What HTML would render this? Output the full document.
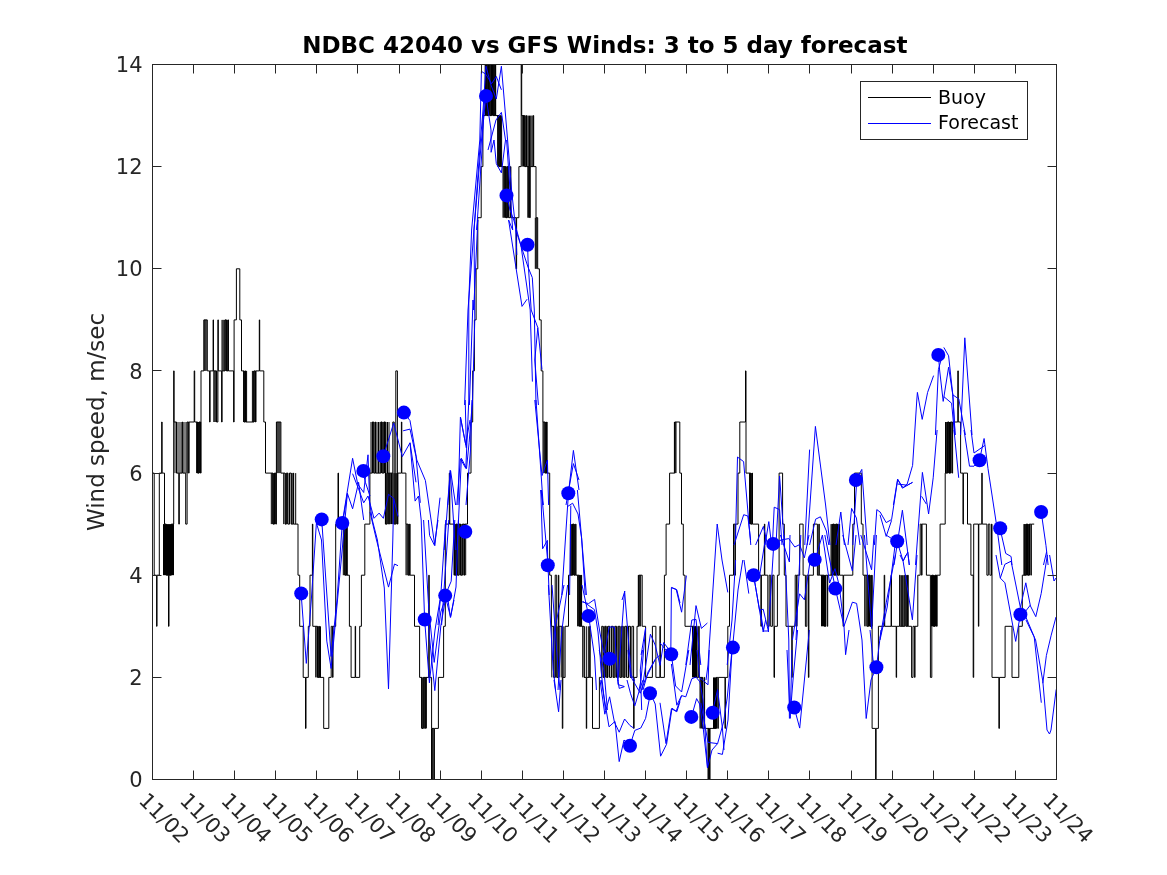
<!DOCTYPE html>
<html><head><meta charset="utf-8"><style>
html,body{margin:0;padding:0;background:#fff;}
svg{display:block;}
text{font-family:"DejaVu Sans","Liberation Sans",sans-serif;}
</style></head><body>
<svg width="1167" height="875" viewBox="0 0 1167 875">
<rect x="0" y="0" width="1167" height="875" fill="#fff"/>

<g clip-path="url(#clip)">
<clipPath id="clip"><rect x="152.5" y="64.5" width="904" height="715"/></clipPath>
<polyline fill="none" stroke="#000" stroke-width="1" points="152.5,473.1 154.2,473.1 154.2,575.2 156.6,575.2 156.6,626.3 157.0,626.3 157.0,575.2 159.3,575.2 159.3,473.1 161.7,473.1 161.7,422.0 162.1,422.0 162.1,473.1 164.5,473.1 164.5,524.1 166.2,524.1 166.2,575.2 168.5,575.2 168.5,626.3 169.0,626.3 169.0,575.2 171.3,575.2 171.3,524.1 173.7,524.1 173.7,370.9 174.1,370.9 174.1,422.0 176.5,422.0 176.5,473.1 178.8,473.1 178.8,524.1 179.3,524.1 179.3,473.1 182.2,473.1 182.2,422.0 182.7,422.0 182.7,473.1 185.7,473.1 185.7,524.1 187.1,524.1 187.1,422.0 188.6,422.0 188.6,473.1 189.1,473.1 189.1,422.0 194.2,422.0 194.2,370.9 194.7,370.9 194.7,422.0 197.6,422.0 197.6,473.1 199.0,473.1 199.0,422.0 200.6,422.0 200.6,473.1 201.0,473.1 201.0,370.9 203.9,370.9 203.9,319.9 207.3,319.9 207.3,370.9 209.6,370.9 209.6,422.0 210.1,422.0 210.1,370.9 213.1,370.9 213.1,319.9 213.5,319.9 213.5,370.9 216.5,370.9 216.5,422.0 217.9,422.0 217.9,319.9 218.3,319.9 218.3,370.9 221.6,370.9 221.6,422.0 222.1,422.0 222.1,370.9 225.0,370.9 225.0,319.9 226.4,319.9 226.4,370.9 228.0,370.9 228.0,319.9 228.4,319.9 228.4,370.9 233.6,370.9 233.6,422.0 234.1,422.0 234.1,319.9 236.4,319.9 236.4,268.8 239.8,268.8 239.8,319.9 241.5,319.9 241.5,370.9 243.9,370.9 243.9,422.0 245.3,422.0 245.3,370.9 245.7,370.9 245.7,422.0 254.1,422.0 254.1,370.9 255.5,370.9 255.5,422.0 256.0,422.0 256.0,370.9 259.3,370.9 259.3,319.9 259.7,319.9 259.7,370.9 263.8,370.9 263.8,422.0 265.5,422.0 265.5,473.1 273.0,473.1 273.0,524.1 274.4,524.1 274.4,473.1 275.9,473.1 275.9,524.1 276.4,524.1 276.4,422.0 280.9,422.0 280.9,473.1 285.0,473.1 285.0,524.1 286.4,524.1 286.4,473.1 287.9,473.1 287.9,524.1 289.5,524.1 289.5,473.1 291.2,473.1 291.2,524.1 292.9,524.1 292.9,473.1 293.4,473.1 293.4,524.1 298.0,524.1 298.0,575.2 299.7,575.2 299.7,626.3 303.2,626.3 303.2,677.4 305.5,677.4 305.5,728.4 306.0,728.4 306.0,677.4 308.3,677.4 308.3,626.3 310.0,626.3 310.0,575.2 312.4,575.2 312.4,524.1 312.8,524.1 312.8,626.3 317.5,626.3 317.5,677.4 318.9,677.4 318.9,626.3 319.3,626.3 319.3,677.4 323.7,677.4 323.7,728.4 328.8,728.4 328.8,677.4 331.2,677.4 331.2,626.3 332.6,626.3 332.6,677.4 333.0,677.4 333.0,626.3 335.7,626.3 335.7,524.1 338.0,524.1 338.0,473.1 338.5,473.1 338.5,524.1 344.9,524.1 344.9,575.2 346.3,575.2 346.3,524.1 346.7,524.1 346.7,575.2 349.4,575.2 349.4,626.3 351.1,626.3 351.1,677.4 355.2,677.4 355.2,626.3 355.6,626.3 355.6,677.4 359.7,677.4 359.7,626.3 361.4,626.3 361.4,575.2 364.8,575.2 364.8,524.1 369.9,524.1 369.9,473.1 372.3,473.1 372.3,422.0 373.7,422.0 373.7,473.1 375.2,473.1 375.2,422.0 375.7,422.0 375.7,473.1 380.8,473.1 380.8,422.0 382.2,422.0 382.2,473.1 383.8,473.1 383.8,422.0 385.4,422.0 385.4,524.1 387.1,524.1 387.1,473.1 388.8,473.1 388.8,524.1 389.2,524.1 389.2,473.1 392.8,473.1 392.8,422.0 394.2,422.0 394.2,524.1 395.8,524.1 395.8,370.9 397.4,370.9 397.4,524.1 397.9,524.1 397.9,473.1 401.4,473.1 401.4,422.0 401.8,422.0 401.8,473.1 405.9,473.1 405.9,524.1 408.2,524.1 408.2,575.2 409.6,575.2 409.6,524.1 410.1,524.1 410.1,575.2 414.5,575.2 414.5,626.3 419.6,626.3 419.6,677.4 421.9,677.4 421.9,728.4 423.3,728.4 423.3,677.4 424.9,677.4 424.9,728.4 425.3,728.4 425.3,677.4 428.8,677.4 428.8,575.2 429.2,575.2 429.2,677.4 431.6,677.4 431.6,728.4 433.9,728.4 433.9,779.5 434.4,779.5 434.4,728.4 438.4,728.4 438.4,677.4 443.6,677.4 443.6,626.3 445.3,626.3 445.3,524.1 449.3,524.1 449.3,473.1 449.8,473.1 449.8,524.1 454.5,524.1 454.5,575.2 455.9,575.2 455.9,524.1 457.4,524.1 457.4,575.2 459.0,575.2 459.0,524.1 460.7,524.1 460.7,575.2 462.4,575.2 462.4,524.1 464.1,524.1 464.1,575.2 464.6,575.2 464.6,524.1 467.5,524.1 467.5,473.1 471.0,473.1 471.0,422.0 472.7,422.0 472.7,370.9 474.4,370.9 474.4,319.9 476.1,319.9 476.1,268.8 477.8,268.8 477.8,217.7 481.2,217.7 481.2,166.6 482.9,166.6 482.9,115.6 485.3,115.6 485.3,64.5 486.7,64.5 486.7,115.6 488.2,115.6 488.2,64.5 489.9,64.5 489.9,115.6 491.5,115.6 491.5,13.4 493.2,13.4 493.2,115.6 494.9,115.6 494.9,64.5 495.4,64.5 495.4,115.6 499.0,115.6 499.0,166.6 500.4,166.6 500.4,115.6 500.8,115.6 500.8,166.6 505.8,166.6 505.8,217.7 507.2,217.7 507.2,166.6 508.8,166.6 508.8,217.7 510.4,217.7 510.4,166.6 510.9,166.6 510.9,217.7 516.1,217.7 516.1,268.8 516.6,268.8 516.6,217.7 518.9,217.7 518.9,166.6 521.2,166.6 521.2,64.5 521.7,64.5 521.7,115.6 524.7,115.6 524.7,166.6 526.1,166.6 526.1,115.6 526.5,115.6 526.5,166.6 529.8,166.6 529.8,217.7 530.2,217.7 530.2,166.6 533.2,166.6 533.2,115.6 533.7,115.6 533.7,166.6 536.0,166.6 536.0,217.7 537.7,217.7 537.7,268.8 539.4,268.8 539.4,319.9 541.2,319.9 541.2,370.9 542.9,370.9 542.9,422.0 545.2,422.0 545.2,473.1 546.6,473.1 546.6,422.0 547.1,422.0 547.1,473.1 549.7,473.1 549.7,575.2 551.4,575.2 551.4,626.3 553.8,626.3 553.8,677.4 555.2,677.4 555.2,575.2 556.7,575.2 556.7,677.4 558.4,677.4 558.4,575.2 558.8,575.2 558.8,626.3 562.3,626.3 562.3,728.4 562.8,728.4 562.8,677.4 565.1,677.4 565.1,626.3 568.5,626.3 568.5,575.2 572.6,575.2 572.6,524.1 574.0,524.1 574.0,575.2 575.6,575.2 575.6,524.1 576.0,524.1 576.0,575.2 579.4,575.2 579.4,626.3 580.8,626.3 580.8,575.2 581.3,575.2 581.3,626.3 584.0,626.3 584.0,677.4 586.3,677.4 586.3,728.4 586.7,728.4 586.7,677.4 589.7,677.4 589.7,626.3 590.2,626.3 590.2,677.4 592.5,677.4 592.5,728.4 599.4,728.4 599.4,677.4 601.7,677.4 601.7,626.3 603.1,626.3 603.1,677.4 604.7,677.4 604.7,626.3 606.3,626.3 606.3,677.4 608.0,677.4 608.0,626.3 609.7,626.3 609.7,677.4 611.4,677.4 611.4,626.3 613.1,626.3 613.1,677.4 614.8,677.4 614.8,626.3 616.5,626.3 616.5,677.4 618.2,677.4 618.2,626.3 619.9,626.3 619.9,677.4 621.6,677.4 621.6,626.3 623.3,626.3 623.3,677.4 625.0,677.4 625.0,626.3 626.8,626.3 626.8,677.4 628.5,677.4 628.5,626.3 630.2,626.3 630.2,677.4 631.9,677.4 631.9,626.3 633.6,626.3 633.6,728.4 634.1,728.4 634.1,677.4 637.0,677.4 637.0,626.3 638.7,626.3 638.7,575.2 642.2,575.2 642.2,626.3 645.6,626.3 645.6,677.4 652.4,677.4 652.4,626.3 655.9,626.3 655.9,677.4 659.9,677.4 659.9,626.3 660.4,626.3 660.4,677.4 664.4,677.4 664.4,575.2 666.1,575.2 666.1,524.1 669.6,524.1 669.6,473.1 674.7,473.1 674.7,422.0 679.8,422.0 679.8,473.1 681.5,473.1 681.5,524.1 683.3,524.1 683.3,575.2 685.0,575.2 685.0,626.3 694.2,626.3 694.2,677.4 695.6,677.4 695.6,626.3 697.1,626.3 697.1,677.4 698.7,677.4 698.7,626.3 699.2,626.3 699.2,677.4 702.7,677.4 702.7,728.4 704.1,728.4 704.1,677.4 704.6,677.4 704.6,728.4 709.6,728.4 709.6,779.5 710.0,779.5 710.0,728.4 716.4,728.4 716.4,677.4 717.8,677.4 717.8,728.4 718.3,728.4 718.3,677.4 725.0,677.4 725.0,728.4 725.4,728.4 725.4,677.4 727.8,677.4 727.8,626.3 729.5,626.3 729.5,575.2 733.5,575.2 733.5,524.1 734.9,524.1 734.9,575.2 735.4,575.2 735.4,524.1 738.0,524.1 738.0,473.1 739.8,473.1 739.8,422.0 745.5,422.0 745.5,370.9 746.0,370.9 746.0,473.1 750.7,473.1 750.7,524.1 752.1,524.1 752.1,473.1 752.5,473.1 752.5,524.1 758.6,524.1 758.6,575.2 760.9,575.2 760.9,626.3 761.4,626.3 761.4,575.2 764.4,575.2 764.4,524.1 764.8,524.1 764.8,575.2 767.8,575.2 767.8,626.3 769.2,626.3 769.2,575.2 770.7,575.2 770.7,626.3 772.4,626.3 772.4,575.2 774.0,575.2 774.0,677.4 774.5,677.4 774.5,626.3 777.4,626.3 777.4,575.2 779.1,575.2 779.1,473.1 782.6,473.1 782.6,524.1 784.3,524.1 784.3,575.2 786.0,575.2 786.0,626.3 791.8,626.3 791.8,677.4 792.2,677.4 792.2,626.3 795.2,626.3 795.2,575.2 796.6,575.2 796.6,626.3 797.0,626.3 797.0,575.2 799.7,575.2 799.7,524.1 803.1,524.1 803.1,575.2 805.4,575.2 805.4,626.3 806.8,626.3 806.8,575.2 808.4,575.2 808.4,677.4 808.9,677.4 808.9,575.2 813.4,575.2 813.4,524.1 817.4,524.1 817.4,575.2 818.8,575.2 818.8,524.1 819.3,524.1 819.3,575.2 824.3,575.2 824.3,626.3 825.7,626.3 825.7,575.2 827.2,575.2 827.2,626.3 827.7,626.3 827.7,575.2 832.8,575.2 832.8,524.1 834.2,524.1 834.2,575.2 835.8,575.2 835.8,524.1 837.4,524.1 837.4,575.2 839.1,575.2 839.1,524.1 839.6,524.1 839.6,575.2 843.1,575.2 843.1,626.3 843.6,626.3 843.6,575.2 852.8,575.2 852.8,524.1 854.5,524.1 854.5,473.1 861.3,473.1 861.3,524.1 863.0,524.1 863.0,575.2 867.1,575.2 867.1,626.3 868.5,626.3 868.5,575.2 870.0,575.2 870.0,626.3 871.7,626.3 871.7,575.2 872.1,575.2 872.1,728.4 875.6,728.4 875.6,779.5 876.1,779.5 876.1,728.4 878.4,728.4 878.4,626.3 884.2,626.3 884.2,575.2 884.7,575.2 884.7,626.3 891.1,626.3 891.1,575.2 891.5,575.2 891.5,626.3 896.2,626.3 896.2,677.4 896.6,677.4 896.6,626.3 899.6,626.3 899.6,575.2 900.1,575.2 900.1,626.3 904.8,626.3 904.8,575.2 906.1,575.2 906.1,626.3 907.7,626.3 907.7,575.2 908.2,575.2 908.2,626.3 911.6,626.3 911.6,677.4 913.0,677.4 913.0,626.3 914.6,626.3 914.6,677.4 915.0,677.4 915.0,626.3 917.8,626.3 917.8,575.2 920.2,575.2 920.2,524.1 921.6,524.1 921.6,575.2 922.0,575.2 922.0,524.1 926.4,524.1 926.4,575.2 930.4,575.2 930.4,677.4 931.8,677.4 931.8,575.2 933.4,575.2 933.4,626.3 935.0,626.3 935.0,575.2 936.7,575.2 936.7,626.3 937.1,626.3 937.1,575.2 940.1,575.2 940.1,524.1 945.2,524.1 945.2,473.1 947.6,473.1 947.6,422.0 949.0,422.0 949.0,473.1 950.5,473.1 950.5,422.0 952.1,422.0 952.1,473.1 952.6,473.1 952.6,422.0 957.8,422.0 957.8,370.9 958.3,370.9 958.3,422.0 960.6,422.0 960.6,473.1 963.0,473.1 963.0,524.1 963.4,524.1 963.4,473.1 967.5,473.1 967.5,524.1 970.9,524.1 970.9,575.2 973.2,575.2 973.2,677.4 973.7,677.4 973.7,524.1 978.4,524.1 978.4,626.3 978.8,626.3 978.8,524.1 981.8,524.1 981.8,473.1 982.2,473.1 982.2,524.1 986.9,524.1 986.9,575.2 988.3,575.2 988.3,524.1 989.9,524.1 989.9,575.2 991.5,575.2 991.5,524.1 992.0,524.1 992.0,677.4 998.9,677.4 998.9,728.4 999.4,728.4 999.4,677.4 1005.1,677.4 1005.1,626.3 1012.0,626.3 1012.0,677.4 1018.8,677.4 1018.8,626.3 1022.3,626.3 1022.3,575.2 1026.3,575.2 1026.3,524.1 1027.7,524.1 1027.7,575.2 1029.3,575.2 1029.3,524.1 1030.9,524.1 1030.9,575.2 1031.3,575.2 1031.3,524.1 1034.2,524.1"/>
<path d="M163.50 575.2V524.1M164.50 575.2V524.1M165.50 575.2V524.1M166.50 575.2V524.1M167.50 575.2V524.1M168.50 575.2V524.1M169.50 575.2V524.1M170.50 575.2V524.1M171.50 575.2V524.1M172.50 575.2V524.1M173.50 575.2V524.1M175.00 473.1V422.0M177.00 473.1V422.0M179.00 473.1V422.0M181.00 473.1V422.0M183.00 473.1V422.0M185.00 473.1V422.0M187.00 473.1V422.0M196.60 473.1V422.0M197.60 473.1V422.0M198.60 473.1V422.0M199.60 473.1V422.0M200.60 473.1V422.0M204.20 370.9V319.9M205.20 370.9V319.9M206.20 370.9V319.9M213.80 422.0V370.9M214.80 422.0V370.9M215.80 422.0V370.9M216.80 422.0V370.9M222.00 370.9V319.9M223.00 370.9V319.9M224.00 370.9V319.9M225.00 370.9V319.9M226.00 370.9V319.9M227.00 370.9V319.9M228.00 370.9V319.9M243.60 422.0V370.9M244.60 422.0V370.9M245.60 422.0V370.9M246.60 422.0V370.9M252.40 422.0V370.9M253.60 422.0V370.9M254.80 422.0V370.9M271.30 524.1V473.1M272.30 524.1V473.1M273.30 524.1V473.1M274.30 524.1V473.1M275.30 524.1V473.1M277.00 473.1V422.0M278.00 473.1V422.0M279.00 473.1V422.0M280.00 473.1V422.0M283.70 524.1V473.1M285.70 524.1V473.1M287.70 524.1V473.1M289.70 524.1V473.1M291.70 524.1V473.1M293.70 524.1V473.1M295.70 524.1V473.1M315.70 677.4V626.3M316.90 677.4V626.3M318.10 677.4V626.3M319.30 677.4V626.3M320.50 677.4V626.3M343.30 575.2V524.1M344.30 575.2V524.1M345.30 575.2V524.1M346.30 575.2V524.1M347.30 575.2V524.1M371.00 473.1V422.0M372.50 473.1V422.0M374.00 473.1V422.0M375.50 473.1V422.0M377.00 473.1V422.0M378.50 473.1V422.0M380.00 473.1V422.0M381.50 473.1V422.0M383.00 473.1V422.0M384.50 473.1V422.0M386.00 473.1V422.0M387.50 473.1V422.0M389.00 473.1V422.0M385.50 524.1V473.1M386.70 524.1V473.1M387.90 524.1V473.1M389.10 524.1V473.1M390.30 524.1V473.1M391.50 524.1V473.1M392.70 524.1V473.1M393.90 524.1V473.1M395.10 524.1V473.1M396.30 524.1V473.1M397.50 524.1V473.1M406.00 575.2V524.1M407.00 575.2V524.1M408.00 575.2V524.1M409.00 575.2V524.1M421.60 728.4V677.4M422.80 728.4V677.4M424.00 728.4V677.4M425.20 728.4V677.4M426.40 728.4V677.4M431.50 779.5V728.4M432.20 779.5V728.4M432.90 779.5V728.4M454.00 575.2V524.1M455.30 575.2V524.1M456.60 575.2V524.1M457.90 575.2V524.1M459.20 575.2V524.1M460.50 575.2V524.1M461.80 575.2V524.1M463.10 575.2V524.1M464.40 575.2V524.1M465.70 575.2V524.1M485.30 115.6V64.5M486.10 115.6V64.5M486.90 115.6V64.5M487.70 115.6V64.5M488.50 115.6V64.5M489.30 115.6V64.5M490.10 115.6V64.5M490.90 115.6V64.5M491.70 115.6V64.5M492.50 115.6V64.5M493.30 115.6V64.5M494.10 115.6V64.5M494.90 115.6V64.5M495.70 115.6V64.5M497.60 166.6V115.6M498.60 166.6V115.6M499.60 166.6V115.6M500.60 166.6V115.6M501.60 166.6V115.6M503.00 217.7V166.6M503.80 217.7V166.6M504.60 217.7V166.6M505.40 217.7V166.6M506.20 217.7V166.6M507.00 217.7V166.6M507.80 217.7V166.6M508.60 217.7V166.6M522.30 166.6V115.6M523.50 166.6V115.6M524.70 166.6V115.6M525.90 166.6V115.6M527.10 166.6V115.6M528.30 166.6V115.6M529.50 166.6V115.6M530.70 166.6V115.6M531.90 166.6V115.6M533.10 166.6V115.6M527.80 217.7V166.6M528.60 217.7V166.6M529.40 217.7V166.6M535.30 268.8V217.7M536.10 268.8V217.7M536.90 268.8V217.7M543.00 473.1V422.0M543.90 473.1V422.0M544.80 473.1V422.0M545.70 473.1V422.0M546.60 473.1V422.0M551.80 677.4V626.3M553.80 677.4V626.3M555.80 677.4V626.3M557.80 677.4V626.3M559.80 677.4V626.3M561.80 677.4V626.3M563.80 677.4V626.3M570.40 575.2V524.1M571.40 575.2V524.1M572.40 575.2V524.1M573.40 575.2V524.1M574.40 575.2V524.1M577.60 626.3V575.2M578.60 626.3V575.2M579.60 626.3V575.2M580.60 626.3V575.2M581.60 626.3V575.2M582.70 677.4V626.3M584.70 677.4V626.3M586.70 677.4V626.3M588.70 677.4V626.3M603.30 677.4V626.3M605.40 677.4V626.3M607.50 677.4V626.3M609.60 677.4V626.3M611.70 677.4V626.3M613.80 677.4V626.3M615.90 677.4V626.3M618.00 677.4V626.3M620.10 677.4V626.3M622.20 677.4V626.3M624.30 677.4V626.3M626.40 677.4V626.3M628.50 677.4V626.3M630.60 677.4V626.3M638.30 626.3V575.2M639.10 626.3V575.2M639.90 626.3V575.2M640.70 626.3V575.2M674.40 473.1V422.0M675.20 473.1V422.0M676.00 473.1V422.0M692.50 677.4V626.3M693.50 677.4V626.3M694.50 677.4V626.3M695.50 677.4V626.3M696.50 677.4V626.3M700.00 728.4V677.4M700.80 728.4V677.4M701.60 728.4V677.4M702.40 728.4V677.4M708.00 779.5V728.4M708.60 779.5V728.4M709.20 779.5V728.4M713.50 728.4V677.4M714.50 728.4V677.4M715.50 728.4V677.4M716.50 728.4V677.4M749.50 524.1V473.1M750.30 524.1V473.1M751.10 524.1V473.1M751.90 524.1V473.1M821.50 626.3V575.2M822.50 626.3V575.2M823.50 626.3V575.2M824.50 626.3V575.2M825.50 626.3V575.2M831.00 575.2V524.1M831.80 575.2V524.1M832.60 575.2V524.1M833.40 575.2V524.1M834.20 575.2V524.1M835.00 575.2V524.1M835.80 575.2V524.1M836.60 575.2V524.1M837.40 575.2V524.1M838.20 575.2V524.1M864.70 626.3V575.2M865.90 626.3V575.2M867.10 626.3V575.2M868.30 626.3V575.2M869.50 626.3V575.2M870.70 626.3V575.2M871.90 626.3V575.2M901.40 626.3V575.2M902.60 626.3V575.2M903.80 626.3V575.2M905.00 626.3V575.2M906.20 626.3V575.2M907.40 626.3V575.2M931.50 626.3V575.2M932.50 626.3V575.2M933.50 626.3V575.2M934.50 626.3V575.2M935.50 626.3V575.2M936.50 626.3V575.2M945.50 473.1V422.0M946.30 473.1V422.0M947.10 473.1V422.0M947.90 473.1V422.0M948.70 473.1V422.0M949.50 473.1V422.0M950.30 473.1V422.0M951.10 473.1V422.0M1023.90 575.2V524.1M1024.60 575.2V524.1M1025.30 575.2V524.1M1026.00 575.2V524.1M1026.70 575.2V524.1M1027.40 575.2V524.1M1028.10 575.2V524.1M1028.80 575.2V524.1M1029.50 575.2V524.1" stroke="#000" stroke-width="1" fill="none"/>
<polyline fill="none" stroke="#0000ff" stroke-width="1" points="583.2,601.5 594.5,609.7 598.0,632.0 600.0,655.0 601.0,670.0 605.4,710.0"/>
<polyline fill="none" stroke="#0000ff" stroke-width="1" points="599.2,650.0 604.0,671.0 607.4,710.0"/>
<polyline fill="none" stroke="#0000ff" stroke-width="1" points="604.5,654.0 609.3,626.5"/>
<polyline fill="none" stroke="#0000ff" stroke-width="1" points="628.0,650.0 630.4,676.0 640.3,693.2 645.0,680.0 655.4,658.9 660.0,655.0"/>
<polyline fill="none" stroke="#0000ff" stroke-width="1" points="642.5,650.0 640.3,670.0 641.7,710.0"/>
<polyline fill="none" stroke="#0000ff" stroke-width="1" points="641.1,655.0 645.6,627.9"/>
<polyline fill="none" stroke="#0000ff" stroke-width="1" points="342.3,522.5 352.6,458.3 357.7,484.0 363.7,492.5 368.0,454.8 369.7,502.8 372.3,520.0"/>
<polyline fill="none" stroke="#0000ff" stroke-width="1" points="343.1,520.0 347.4,493.4 352.6,508.8 358.6,482.3 363.7,520.0"/>
<polyline fill="none" stroke="#0000ff" stroke-width="1" points="352.6,473.7 358.6,489.1 363.7,502.8 368.0,496.0 374.0,518.3 379.1,513.1 383.4,518.3 388.5,494.3 393.7,498.5 398.0,516.5"/>
<polyline fill="none" stroke="#0000ff" stroke-width="1" points="362.9,471.0 365.4,482.3 370.0,496.0"/>
<polyline fill="none" stroke="#0000ff" stroke-width="1" points="383.4,455.7 393.7,423.1 402.3,456.6 410.0,442.8 416.0,482.3"/>
<polyline fill="none" stroke="#0000ff" stroke-width="1" points="404.0,412.9 410.0,420.6 416.8,460.0 425.4,480.5 434.8,545.7 440.0,497.7"/>
<polyline fill="none" stroke="#0000ff" stroke-width="1" points="403.1,430.8 410.0,429.1 416.0,456.6 420.3,502.8"/>
<polyline fill="none" stroke="#0000ff" stroke-width="1" points="410.0,442.8 415.1,501.1 418.5,496.0 421.2,520.0"/>
<polyline fill="none" stroke="#0000ff" stroke-width="1" points="444.2,550.0 450.2,470.3 455.4,550.0"/>
<polyline fill="none" stroke="#0000ff" stroke-width="1" points="457.1,550.0 461.4,458.3 466.5,468.6 469.1,442.8 472.5,400.0"/>
<polyline fill="none" stroke="#0000ff" stroke-width="1" points="460.5,417.1 465.7,444.6 470.0,420.0"/>
<polyline fill="none" stroke="#0000ff" stroke-width="1" points="301.1,593.1 306.3,663.4 311.3,600.0 316.4,523.0 321.5,540.0 326.8,641.1 331.1,668.5 343.1,540.0 347.4,493.4"/>
<polyline fill="none" stroke="#0000ff" stroke-width="1" points="321.7,519.4 331.1,656.5 337.0,600.0 342.3,522.5"/>
<polyline fill="none" stroke="#0000ff" stroke-width="1" points="370.0,512.0 376.5,540.0 388.5,587.1 394.5,564.0 398.0,565.7"/>
<polyline fill="none" stroke="#0000ff" stroke-width="1" points="372.3,520.0 377.4,540.0 384.3,588.0 388.5,689.0 392.8,540.0 393.7,498.5"/>
<polyline fill="none" stroke="#0000ff" stroke-width="1" points="421.2,520.0 424.6,619.2 429.4,682.8 435.0,630.0 440.0,600.0"/>
<polyline fill="none" stroke="#0000ff" stroke-width="1" points="423.6,520.0 428.8,609.6 434.2,662.4 440.8,612.0 445.6,598.0"/>
<polyline fill="none" stroke="#0000ff" stroke-width="1" points="428.0,622.0 434.8,690.6 440.8,626.0 445.6,598.0"/>
<polyline fill="none" stroke="#0000ff" stroke-width="1" points="448.0,600.0 450.4,617.4 454.0,600.0"/>
<polyline fill="none" stroke="#0000ff" stroke-width="1" points="428.4,520.0 429.6,535.6 434.4,545.2 438.0,520.0"/>
<polyline fill="none" stroke="#0000ff" stroke-width="1" points="445.8,520.0 441.0,592.0 438.0,625.0"/>
<polyline fill="none" stroke="#0000ff" stroke-width="1" points="448.8,520.0 441.6,625.0"/>
<polyline fill="none" stroke="#0000ff" stroke-width="1" points="445.2,595.6 451.2,581.2 454.8,520.0"/>
<polyline fill="none" stroke="#0000ff" stroke-width="1" points="445.2,595.6 450.6,617.2 456.0,587.0 458.4,520.0"/>
<polyline fill="none" stroke="#0000ff" stroke-width="1" points="447.8,505.0 450.6,470.8 455.6,505.0"/>
<polyline fill="none" stroke="#0000ff" stroke-width="1" points="456.8,505.0 460.4,458.8 465.8,468.4 468.8,400.0"/>
<polyline fill="none" stroke="#0000ff" stroke-width="1" points="458.0,505.0 460.4,417.4 466.4,448.0 465.2,400.0"/>
<polyline fill="none" stroke="#0000ff" stroke-width="1" points="466.0,505.0 470.5,450.0 472.0,400.0"/>
<polyline fill="none" stroke="#0000ff" stroke-width="1" points="468.8,400.0 468.8,300.0 471.6,230.0 479.8,140.0 481.4,71.3 486.0,74.4 491.6,83.7 496.3,76.5 501.4,89.8"/>
<polyline fill="none" stroke="#0000ff" stroke-width="1" points="464.6,405.0 468.0,310.0 474.7,220.0 480.5,140.0 483.0,110.0 486.0,66.2 491.0,85.0 496.3,99.0 501.4,66.2 507.6,140.0 511.7,191.4 515.8,230.0 516.8,255.0"/>
<polyline fill="none" stroke="#0000ff" stroke-width="1" points="469.4,405.0 473.0,300.0 473.7,310.0 477.8,220.0 476.7,230.0 482.0,150.0 484.0,105.0 486.0,96.0"/>
<polyline fill="none" stroke="#0000ff" stroke-width="1" points="472.4,405.0 474.8,319.2 474.7,310.0 474.0,230.0 481.5,140.0 486.0,96.0"/>
<polyline fill="none" stroke="#0000ff" stroke-width="1" points="486.0,96.0 491.0,130.0 491.1,152.3 494.0,140.0 496.3,163.6 501.4,172.9 505.5,140.0 501.4,112.4 496.0,120.0 488.0,150.0"/>
<polyline fill="none" stroke="#0000ff" stroke-width="1" points="506.6,140.0 510.0,190.0 512.7,230.0 508.6,220.0 522.0,306.4 527.1,299.2"/>
<polyline fill="none" stroke="#0000ff" stroke-width="1" points="506.6,195.5 510.0,210.0 513.8,220.0 521.0,245.7 530.2,310.0 532.4,381.6"/>
<polyline fill="none" stroke="#0000ff" stroke-width="1" points="515.8,230.0 528.1,267.3 532.3,277.6 534.3,310.0 536.0,405.0"/>
<polyline fill="none" stroke="#0000ff" stroke-width="1" points="527.6,244.7 528.1,262.0 531.2,310.0 537.8,327.6 542.0,369.6"/>
<polyline fill="none" stroke="#0000ff" stroke-width="1" points="537.8,327.6 534.8,360.0 538.4,405.0"/>
<polyline fill="none" stroke="#0000ff" stroke-width="1" points="534.8,400.0 542.0,475.6 547.4,460.0 548.6,505.0"/>
<polyline fill="none" stroke="#0000ff" stroke-width="1" points="536.0,400.0 543.2,505.0 540.8,490.0 542.6,548.8 547.4,540.4 547.8,565.0"/>
<polyline fill="none" stroke="#0000ff" stroke-width="1" points="568.4,493.6 573.4,450.4 579.0,490.0"/>
<polyline fill="none" stroke="#0000ff" stroke-width="1" points="566.0,505.0 573.4,463.6 579.0,480.0"/>
<polyline fill="none" stroke="#0000ff" stroke-width="1" points="541.4,490.0 548.0,565.0 549.2,595.0"/>
<polyline fill="none" stroke="#0000ff" stroke-width="1" points="568.4,494.2 566.0,530.0 561.8,595.0"/>
<polyline fill="none" stroke="#0000ff" stroke-width="1" points="567.2,506.8 572.6,503.2 578.0,514.0 581.6,538.0 586.4,595.0"/>
<polyline fill="none" stroke="#0000ff" stroke-width="1" points="577.4,490.0 581.6,538.0 585.2,595.0"/>
<polyline fill="none" stroke="#0000ff" stroke-width="1" points="570.8,505.6 569.6,595.0"/>
<polyline fill="none" stroke="#0000ff" stroke-width="1" points="624.8,591.4 622.0,600.0"/>
<polyline fill="none" stroke="#0000ff" stroke-width="1" points="548.4,585.0 553.2,669.0 555.6,690.0"/>
<polyline fill="none" stroke="#0000ff" stroke-width="1" points="552.0,585.0 558.0,669.0 560.0,690.0"/>
<polyline fill="none" stroke="#0000ff" stroke-width="1" points="567.6,585.0 561.6,633.0 558.0,690.0"/>
<polyline fill="none" stroke="#0000ff" stroke-width="1" points="564.0,585.0 554.4,630.6 553.0,660.0"/>
<polyline fill="none" stroke="#0000ff" stroke-width="1" points="582.0,601.8 588.6,603.6 594.6,599.4 600.0,633.0 603.6,652.0 607.2,657.0"/>
<polyline fill="none" stroke="#0000ff" stroke-width="1" points="582.0,585.0 588.6,615.6 594.6,657.0 596.4,690.0"/>
<polyline fill="none" stroke="#0000ff" stroke-width="1" points="609.6,627.0 614.4,627.0 618.0,684.6 624.0,686.4"/>
<polyline fill="none" stroke="#0000ff" stroke-width="1" points="618.0,681.0 624.6,591.0 631.2,675.0 634.8,681.0"/>
<polyline fill="none" stroke="#0000ff" stroke-width="1" points="645.6,628.2 641.0,680.0 639.0,690.0"/>
<polyline fill="none" stroke="#0000ff" stroke-width="1" points="642.0,690.0 650.4,634.2 655.2,645.0 660.0,665.4 663.6,642.6 667.0,647.0 671.4,654.3"/>
<polyline fill="none" stroke="#0000ff" stroke-width="1" points="671.4,587.4 676.8,589.8 680.0,603.0"/>
<polyline fill="none" stroke="#0000ff" stroke-width="1" points="655.0,660.0 648.0,672.0 643.0,690.0"/>
<polyline fill="none" stroke="#0000ff" stroke-width="1" points="554.0,680.0 558.6,711.8 561.0,680.0"/>
<polyline fill="none" stroke="#0000ff" stroke-width="1" points="600.0,680.0 604.8,714.2 609.6,696.8 614.4,722.0 619.2,732.2 624.6,719.0 630.0,725.6 633.6,728.0"/>
<polyline fill="none" stroke="#0000ff" stroke-width="1" points="601.2,680.0 609.0,726.8 615.0,721.4 619.2,761.6 624.0,740.0 630.0,745.4"/>
<polyline fill="none" stroke="#0000ff" stroke-width="1" points="630.0,745.4 634.8,730.4 640.8,728.0 645.6,718.4 650.4,693.2"/>
<polyline fill="none" stroke="#0000ff" stroke-width="1" points="618.0,680.0 619.2,688.4 624.6,686.6"/>
<polyline fill="none" stroke="#0000ff" stroke-width="1" points="627.0,680.0 630.6,693.8 634.8,705.8 639.6,689.6 643.0,680.0"/>
<polyline fill="none" stroke="#0000ff" stroke-width="1" points="650.4,693.2 655.2,704.0 660.6,756.2 666.6,744.2 672.0,708.2 676.8,711.8 680.0,701.6"/>
<polyline fill="none" stroke="#0000ff" stroke-width="1" points="660.0,642.8 664.8,648.8 670.8,653.6"/>
<polyline fill="none" stroke="#0000ff" stroke-width="1" points="670.8,653.6 671.4,587.6 676.2,589.4 681.6,612.2 686.4,575.6"/>
<polyline fill="none" stroke="#0000ff" stroke-width="1" points="685.8,665.0 691.8,620.0 696.0,619.4 700.8,665.0"/>
<polyline fill="none" stroke="#0000ff" stroke-width="1" points="690.0,665.0 696.0,605.6 701.4,628.4 707.4,623.0"/>
<polyline fill="none" stroke="#0000ff" stroke-width="1" points="706.0,680.0 708.0,665.0 717.2,524.0 722.0,560.0 727.8,592.4"/>
<polyline fill="none" stroke="#0000ff" stroke-width="1" points="727.2,665.0 732.0,620.0 735.6,560.0"/>
<polyline fill="none" stroke="#0000ff" stroke-width="1" points="732.6,647.3 738.0,590.0 742.8,560.0"/>
<polyline fill="none" stroke="#0000ff" stroke-width="1" points="744.0,560.0 748.8,593.6"/>
<polyline fill="none" stroke="#0000ff" stroke-width="1" points="753.6,575.4 759.6,610.4 763.2,609.2 768.6,632.0"/>
<polyline fill="none" stroke="#0000ff" stroke-width="1" points="753.6,575.4 763.2,632.0 765.6,620.0"/>
<polyline fill="none" stroke="#0000ff" stroke-width="1" points="671.4,654.8 675.6,686.0 681.6,692.0 688.8,650.0"/>
<polyline fill="none" stroke="#0000ff" stroke-width="1" points="671.4,664.0 676.8,705.2 681.6,695.6 685.8,696.8 691.8,678.8 696.0,677.0 700.0,682.0 703.0,700.0 707.5,768.0 712.0,750.0 717.6,743.6"/>
<polyline fill="none" stroke="#0000ff" stroke-width="1" points="660.0,702.8 666.0,743.6 671.4,708.8 676.2,711.2 681.6,695.6"/>
<polyline fill="none" stroke="#0000ff" stroke-width="1" points="691.4,717.2 696.6,698.6 699.6,704.0 703.2,728.0 707.5,768.0"/>
<polyline fill="none" stroke="#0000ff" stroke-width="1" points="697.0,650.0 699.6,677.6 708.0,684.8 709.2,650.0"/>
<polyline fill="none" stroke="#0000ff" stroke-width="1" points="700.8,702.8 708.0,742.4 717.6,743.6 723.6,722.0 727.2,698.0 732.0,650.0"/>
<polyline fill="none" stroke="#0000ff" stroke-width="1" points="712.4,712.4 717.6,689.6 722.4,728.0 724.0,750.0"/>
<polyline fill="none" stroke="#0000ff" stroke-width="1" points="717.6,753.2 722.4,754.4 728.0,720.0 732.0,650.0"/>
<polyline fill="none" stroke="#0000ff" stroke-width="1" points="787.0,650.0 790.2,718.4 792.0,650.0"/>
<polyline fill="none" stroke="#0000ff" stroke-width="1" points="735.5,540.0 737.5,457.0 743.6,461.6 750.8,545.0"/>
<polyline fill="none" stroke="#0000ff" stroke-width="1" points="734.0,545.0 743.7,514.7 747.8,516.0 750.6,540.0"/>
<polyline fill="none" stroke="#0000ff" stroke-width="1" points="755.6,545.0 763.4,526.4 767.6,545.0"/>
<polyline fill="none" stroke="#0000ff" stroke-width="1" points="765.0,545.0 768.8,521.6 771.0,540.0"/>
<polyline fill="none" stroke="#0000ff" stroke-width="1" points="772.4,545.0 774.2,507.2 779.6,509.6 782.0,545.0"/>
<polyline fill="none" stroke="#0000ff" stroke-width="1" points="776.0,545.0 779.6,476.0 784.4,545.0"/>
<polyline fill="none" stroke="#0000ff" stroke-width="1" points="804.8,545.0 809.6,449.6"/>
<polyline fill="none" stroke="#0000ff" stroke-width="1" points="807.2,545.0 815.4,426.4 825.6,505.0 830.0,545.0"/>
<polyline fill="none" stroke="#0000ff" stroke-width="1" points="809.6,545.0 815.6,519.2 820.4,516.8 826.4,531.0 828.8,545.0"/>
<polyline fill="none" stroke="#0000ff" stroke-width="1" points="836.0,545.0 840.8,512.0 844.4,545.0"/>
<polyline fill="none" stroke="#0000ff" stroke-width="1" points="848.0,545.0 851.6,508.4 856.4,518.0 860.0,545.0"/>
<polyline fill="none" stroke="#0000ff" stroke-width="1" points="855.8,480.2 861.8,469.4 867.2,545.0"/>
<polyline fill="none" stroke="#0000ff" stroke-width="1" points="852.8,545.0 856.4,485.6"/>
<polyline fill="none" stroke="#0000ff" stroke-width="1" points="874.4,545.0 876.8,509.6 880.0,512.0"/>
<polyline fill="none" stroke="#0000ff" stroke-width="1" points="760.0,609.0 763.6,631.0 768.4,631.0 773.8,544.0"/>
<polyline fill="none" stroke="#0000ff" stroke-width="1" points="760.0,573.0 766.0,535.0"/>
<polyline fill="none" stroke="#0000ff" stroke-width="1" points="773.8,544.0 781.0,540.0 788.8,538.6 794.8,547.0 799.6,544.6 804.4,557.8 809.0,535.0"/>
<polyline fill="none" stroke="#0000ff" stroke-width="1" points="780.4,535.0 789.4,562.0 790.0,535.0"/>
<polyline fill="none" stroke="#0000ff" stroke-width="1" points="784.0,535.0 788.8,640.0 789.4,718.5"/>
<polyline fill="none" stroke="#0000ff" stroke-width="1" points="792.4,640.0 799.6,593.8 804.4,599.8 810.4,559.0 815.2,559.6"/>
<polyline fill="none" stroke="#0000ff" stroke-width="1" points="796.0,640.0 800.8,535.0"/>
<polyline fill="none" stroke="#0000ff" stroke-width="1" points="815.2,559.6 822.4,535.0"/>
<polyline fill="none" stroke="#0000ff" stroke-width="1" points="822.4,535.0 829.6,583.0 835.0,568.6 839.2,585.4 844.0,626.2 852.4,602.2 856.6,603.4 862.0,640.0 866.2,718.5 871.0,680.0 876.5,667.0"/>
<polyline fill="none" stroke="#0000ff" stroke-width="1" points="824.8,535.0 835.3,588.4 844.0,626.2 845.6,654.7 849.0,630.0"/>
<polyline fill="none" stroke="#0000ff" stroke-width="1" points="842.8,535.0 852.4,571.0 856.0,535.0"/>
<polyline fill="none" stroke="#0000ff" stroke-width="1" points="860.8,535.0 871.6,569.8 874.0,535.0"/>
<polyline fill="none" stroke="#0000ff" stroke-width="1" points="864.4,535.0 871.6,628.6 876.4,535.0"/>
<polyline fill="none" stroke="#0000ff" stroke-width="1" points="880.0,640.0 887.2,607.0 895.6,541.0"/>
<polyline fill="none" stroke="#0000ff" stroke-width="1" points="886.0,535.0 895.6,541.0"/>
<polyline fill="none" stroke="#0000ff" stroke-width="1" points="797.6,630.0 793.0,680.0 791.0,705.0"/>
<polyline fill="none" stroke="#0000ff" stroke-width="1" points="794.2,707.5 799.7,728.1 809.3,630.0"/>
<polyline fill="none" stroke="#0000ff" stroke-width="1" points="870.0,630.0 873.0,660.0 876.5,667.0"/>
<polyline fill="none" stroke="#0000ff" stroke-width="1" points="881.0,630.0 876.5,667.0"/>
<polyline fill="none" stroke="#0000ff" stroke-width="1" points="893.4,505.0 897.6,479.2 902.4,488.2 907.2,484.0 912.6,465.4 916.8,400.0 917.4,392.4 922.2,419.4 927.6,392.4 933.6,375.6"/>
<polyline fill="none" stroke="#0000ff" stroke-width="1" points="897.6,484.0 907.2,485.2 912.6,482.4"/>
<polyline fill="none" stroke="#0000ff" stroke-width="1" points="935.4,435.0 938.4,369.6 941.0,360.0"/>
<polyline fill="none" stroke="#0000ff" stroke-width="1" points="938.4,354.6 939.6,370.0 943.2,401.4 948.6,367.2 952.8,394.8 955.0,435.0"/>
<polyline fill="none" stroke="#0000ff" stroke-width="1" points="943.8,347.4 948.6,355.8 952.8,394.8 955.2,435.0"/>
<polyline fill="none" stroke="#0000ff" stroke-width="1" points="943.8,396.6 951.6,403.2 954.6,435.0"/>
<polyline fill="none" stroke="#0000ff" stroke-width="1" points="952.8,394.8 958.8,399.0 965.4,435.0"/>
<polyline fill="none" stroke="#0000ff" stroke-width="1" points="960.6,435.0 964.8,337.8 972.0,435.0"/>
<polyline fill="none" stroke="#0000ff" stroke-width="1" points="880.0,511.8 886.2,522.6 891.6,519.5 897.7,479.4 903.1,487.8 912.4,482.4"/>
<polyline fill="none" stroke="#0000ff" stroke-width="1" points="880.0,514.8 886.2,536.4 891.6,520.3"/>
<polyline fill="none" stroke="#0000ff" stroke-width="1" points="894.0,565.0 902.4,510.2 909.3,565.0"/>
<polyline fill="none" stroke="#0000ff" stroke-width="1" points="897.0,541.0 903.1,561.0 907.8,552.0 909.3,565.0"/>
<polyline fill="none" stroke="#0000ff" stroke-width="1" points="915.5,565.0 922.4,472.4 928.6,514.0 933.2,477.8 937.1,430.0"/>
<polyline fill="none" stroke="#0000ff" stroke-width="1" points="921.6,496.3 926.3,504.0"/>
<polyline fill="none" stroke="#0000ff" stroke-width="1" points="954.0,430.0 958.7,477.8"/>
<polyline fill="none" stroke="#0000ff" stroke-width="1" points="964.0,430.0 969.5,466.2 974.0,466.2 979.5,460.1 984.1,438.5 988.0,468.6 997.0,528.0 1001.8,565.0"/>
<polyline fill="none" stroke="#0000ff" stroke-width="1" points="971.0,430.0 974.0,453.0 984.9,445.4"/>
<polyline fill="none" stroke="#0000ff" stroke-width="1" points="1000.0,528.3 1005.7,553.4 1011.1,556.5 1012.0,565.0"/>
<polyline fill="none" stroke="#0000ff" stroke-width="1" points="1041.2,511.8 1046.0,545.7 1048.1,565.0"/>
<polyline fill="none" stroke="#0000ff" stroke-width="1" points="1043.5,565.0 1046.6,551.8"/>
<polyline fill="none" stroke="#0000ff" stroke-width="1" points="880.0,638.3 886.2,602.8 895.4,555.0"/>
<polyline fill="none" stroke="#0000ff" stroke-width="1" points="900.0,555.0 903.1,561.2 906.0,555.0"/>
<polyline fill="none" stroke="#0000ff" stroke-width="1" points="903.1,561.2 912.4,619.8 917.0,555.0"/>
<polyline fill="none" stroke="#0000ff" stroke-width="1" points="996.0,555.0 1000.3,578.1 1004.9,582.8 1015.7,641.4 1020.4,614.4"/>
<polyline fill="none" stroke="#0000ff" stroke-width="1" points="1000.3,578.1 1004.9,564.3 1011.1,561.2 1020.4,607.5 1025.8,582.8 1030.4,605.9 1035.8,616.7 1041.2,593.5 1047.4,555.0"/>
<polyline fill="none" stroke="#0000ff" stroke-width="1" points="1020.4,614.4 1025.0,612.0 1030.4,605.0"/>
<polyline fill="none" stroke="#0000ff" stroke-width="1" points="1025.0,615.0 1034.2,636.8 1041.3,702.7"/>
<polyline fill="none" stroke="#0000ff" stroke-width="1" points="1026.0,620.0 1035.6,640.0 1042.8,681.0 1047.0,730.0 1049.5,734.0 1051.0,730.0 1056.2,689.4"/>
<polyline fill="none" stroke="#0000ff" stroke-width="1" points="1042.8,683.2 1046.4,655.4 1051.2,635.2 1056.0,617.0"/>
<polyline fill="none" stroke="#0000ff" stroke-width="1" points="1049.6,555.0 1054.0,581.0 1056.0,578.0"/>
<circle cx="301.2" cy="593.4" r="7" fill="#0000ff"/>
<circle cx="321.7" cy="519.4" r="7" fill="#0000ff"/>
<circle cx="342.3" cy="523.0" r="7" fill="#0000ff"/>
<circle cx="363.4" cy="470.9" r="7" fill="#0000ff"/>
<circle cx="383.3" cy="456.3" r="7" fill="#0000ff"/>
<circle cx="403.9" cy="412.6" r="7" fill="#0000ff"/>
<circle cx="424.7" cy="619.5" r="7" fill="#0000ff"/>
<circle cx="445.2" cy="595.6" r="7" fill="#0000ff"/>
<circle cx="465.3" cy="531.8" r="7" fill="#0000ff"/>
<circle cx="486.0" cy="95.9" r="7" fill="#0000ff"/>
<circle cx="506.5" cy="195.4" r="7" fill="#0000ff"/>
<circle cx="527.5" cy="244.8" r="7" fill="#0000ff"/>
<circle cx="547.8" cy="565.3" r="7" fill="#0000ff"/>
<circle cx="568.3" cy="493.3" r="7" fill="#0000ff"/>
<circle cx="588.5" cy="615.9" r="7" fill="#0000ff"/>
<circle cx="609.5" cy="658.7" r="7" fill="#0000ff"/>
<circle cx="630.0" cy="745.7" r="7" fill="#0000ff"/>
<circle cx="650.0" cy="693.3" r="7" fill="#0000ff"/>
<circle cx="671.2" cy="654.2" r="7" fill="#0000ff"/>
<circle cx="691.3" cy="716.9" r="7" fill="#0000ff"/>
<circle cx="712.7" cy="712.8" r="7" fill="#0000ff"/>
<circle cx="732.9" cy="647.6" r="7" fill="#0000ff"/>
<circle cx="753.6" cy="575.3" r="7" fill="#0000ff"/>
<circle cx="773.2" cy="543.9" r="7" fill="#0000ff"/>
<circle cx="794.2" cy="707.5" r="7" fill="#0000ff"/>
<circle cx="814.7" cy="559.8" r="7" fill="#0000ff"/>
<circle cx="835.3" cy="588.6" r="7" fill="#0000ff"/>
<circle cx="855.9" cy="480.0" r="7" fill="#0000ff"/>
<circle cx="876.4" cy="667.3" r="7" fill="#0000ff"/>
<circle cx="897.2" cy="541.3" r="7" fill="#0000ff"/>
<circle cx="938.3" cy="354.9" r="7" fill="#0000ff"/>
<circle cx="979.6" cy="460.2" r="7" fill="#0000ff"/>
<circle cx="1000.2" cy="528.2" r="7" fill="#0000ff"/>
<circle cx="1020.4" cy="614.4" r="7" fill="#0000ff"/>
<circle cx="1041.1" cy="512.0" r="7" fill="#0000ff"/>
</g>
<rect x="152.5" y="64.5" width="904" height="715" fill="none" stroke="#262626" stroke-width="1"/>
<path d="M152.5 779.5V770.5M152.5 64.5V73.5M193.5 779.5V770.5M193.5 64.5V73.5M234.5 779.5V770.5M234.5 64.5V73.5M275.5 779.5V770.5M275.5 64.5V73.5M316.5 779.5V770.5M316.5 64.5V73.5M357.5 779.5V770.5M357.5 64.5V73.5M399.5 779.5V770.5M399.5 64.5V73.5M440.5 779.5V770.5M440.5 64.5V73.5M481.5 779.5V770.5M481.5 64.5V73.5M522.5 779.5V770.5M522.5 64.5V73.5M563.5 779.5V770.5M563.5 64.5V73.5M604.5 779.5V770.5M604.5 64.5V73.5M645.5 779.5V770.5M645.5 64.5V73.5M686.5 779.5V770.5M686.5 64.5V73.5M727.5 779.5V770.5M727.5 64.5V73.5M768.5 779.5V770.5M768.5 64.5V73.5M809.5 779.5V770.5M809.5 64.5V73.5M851.5 779.5V770.5M851.5 64.5V73.5M892.5 779.5V770.5M892.5 64.5V73.5M933.5 779.5V770.5M933.5 64.5V73.5M974.5 779.5V770.5M974.5 64.5V73.5M1015.5 779.5V770.5M1015.5 64.5V73.5M1056.5 779.5V770.5M1056.5 64.5V73.5M152.5 779.5H161.5M1056.5 779.5H1047.5M152.5 677.5H161.5M1056.5 677.5H1047.5M152.5 575.5H161.5M1056.5 575.5H1047.5M152.5 473.5H161.5M1056.5 473.5H1047.5M152.5 370.5H161.5M1056.5 370.5H1047.5M152.5 268.5H161.5M1056.5 268.5H1047.5M152.5 166.5H161.5M1056.5 166.5H1047.5M152.5 64.5H161.5M1056.5 64.5H1047.5" stroke="#262626" stroke-width="1" fill="none"/>
<text x="142.5" y="787.1" font-size="21" fill="#262626" text-anchor="end">0</text>
<text x="142.5" y="685.0" font-size="21" fill="#262626" text-anchor="end">2</text>
<text x="142.5" y="582.8" font-size="21" fill="#262626" text-anchor="end">4</text>
<text x="142.5" y="480.7" font-size="21" fill="#262626" text-anchor="end">6</text>
<text x="142.5" y="378.5" font-size="21" fill="#262626" text-anchor="end">8</text>
<text x="142.5" y="276.4" font-size="21" fill="#262626" text-anchor="end">10</text>
<text x="142.5" y="174.2" font-size="21" fill="#262626" text-anchor="end">12</text>
<text x="142.5" y="72.1" font-size="21" fill="#262626" text-anchor="end">14</text>
<text transform="translate(148.5,791) rotate(45)" x="0" y="0" font-size="21" fill="#262626" dominant-baseline="hanging">11/02</text>
<text transform="translate(189.6,791) rotate(45)" x="0" y="0" font-size="21" fill="#262626" dominant-baseline="hanging">11/03</text>
<text transform="translate(230.7,791) rotate(45)" x="0" y="0" font-size="21" fill="#262626" dominant-baseline="hanging">11/04</text>
<text transform="translate(271.8,791) rotate(45)" x="0" y="0" font-size="21" fill="#262626" dominant-baseline="hanging">11/05</text>
<text transform="translate(312.9,791) rotate(45)" x="0" y="0" font-size="21" fill="#262626" dominant-baseline="hanging">11/06</text>
<text transform="translate(354.0,791) rotate(45)" x="0" y="0" font-size="21" fill="#262626" dominant-baseline="hanging">11/07</text>
<text transform="translate(395.0,791) rotate(45)" x="0" y="0" font-size="21" fill="#262626" dominant-baseline="hanging">11/08</text>
<text transform="translate(436.1,791) rotate(45)" x="0" y="0" font-size="21" fill="#262626" dominant-baseline="hanging">11/09</text>
<text transform="translate(477.2,791) rotate(45)" x="0" y="0" font-size="21" fill="#262626" dominant-baseline="hanging">11/10</text>
<text transform="translate(518.3,791) rotate(45)" x="0" y="0" font-size="21" fill="#262626" dominant-baseline="hanging">11/11</text>
<text transform="translate(559.4,791) rotate(45)" x="0" y="0" font-size="21" fill="#262626" dominant-baseline="hanging">11/12</text>
<text transform="translate(600.5,791) rotate(45)" x="0" y="0" font-size="21" fill="#262626" dominant-baseline="hanging">11/13</text>
<text transform="translate(641.6,791) rotate(45)" x="0" y="0" font-size="21" fill="#262626" dominant-baseline="hanging">11/14</text>
<text transform="translate(682.7,791) rotate(45)" x="0" y="0" font-size="21" fill="#262626" dominant-baseline="hanging">11/15</text>
<text transform="translate(723.8,791) rotate(45)" x="0" y="0" font-size="21" fill="#262626" dominant-baseline="hanging">11/16</text>
<text transform="translate(764.9,791) rotate(45)" x="0" y="0" font-size="21" fill="#262626" dominant-baseline="hanging">11/17</text>
<text transform="translate(806.0,791) rotate(45)" x="0" y="0" font-size="21" fill="#262626" dominant-baseline="hanging">11/18</text>
<text transform="translate(847.0,791) rotate(45)" x="0" y="0" font-size="21" fill="#262626" dominant-baseline="hanging">11/19</text>
<text transform="translate(888.1,791) rotate(45)" x="0" y="0" font-size="21" fill="#262626" dominant-baseline="hanging">11/20</text>
<text transform="translate(929.2,791) rotate(45)" x="0" y="0" font-size="21" fill="#262626" dominant-baseline="hanging">11/21</text>
<text transform="translate(970.3,791) rotate(45)" x="0" y="0" font-size="21" fill="#262626" dominant-baseline="hanging">11/22</text>
<text transform="translate(1011.4,791) rotate(45)" x="0" y="0" font-size="21" fill="#262626" dominant-baseline="hanging">11/23</text>
<text transform="translate(1052.5,791) rotate(45)" x="0" y="0" font-size="21" fill="#262626" dominant-baseline="hanging">11/24</text>
<text x="604.8" y="53.2" font-size="23" font-weight="bold" fill="#000" text-anchor="middle">NDBC 42040 vs GFS Winds: 3 to 5 day forecast</text>
<text transform="translate(104,422) rotate(-90)" x="0" y="0" font-size="23" fill="#262626" text-anchor="middle">Wind speed, m/sec</text>
<rect x="860.5" y="81.5" width="167" height="58" fill="#fff" stroke="#262626" stroke-width="1"/>
<path d="M868 97.5H931" stroke="#000" stroke-width="1"/>
<path d="M868 123.5H931" stroke="#0000ff" stroke-width="1"/>
<text x="938" y="104" font-size="19" fill="#000">Buoy</text>
<text x="938" y="128.8" font-size="19" fill="#000">Forecast</text>
</svg></body></html>
